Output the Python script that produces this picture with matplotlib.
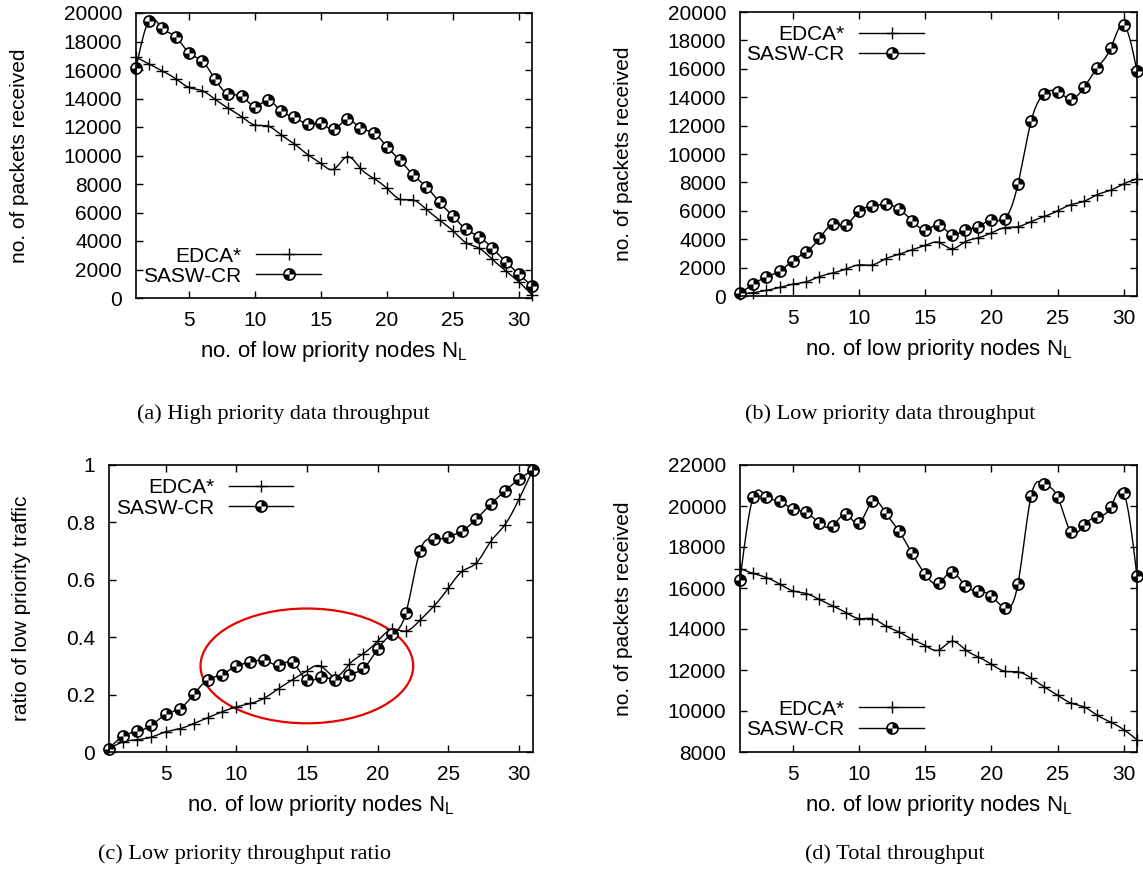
import numpy as np
import matplotlib
matplotlib.use('Agg')
import matplotlib.pyplot as plt
from matplotlib.path import Path
from matplotlib.patches import Ellipse
from matplotlib.legend_handler import HandlerTuple
from matplotlib.ticker import FuncFormatter

plt.rcParams['font.family'] = ['Liberation Sans', 'DejaVu Sans']
plt.rcParams['mathtext.fontset'] = 'custom'
plt.rcParams['mathtext.rm'] = 'Liberation Sans'
plt.rcParams['mathtext.it'] = 'Liberation Sans:italic'

# x axis: number of low priority nodes
nodes = np.arange(1, 32)

# (a) high priority data throughput
edca_high = [16900, 16420, 15930, 15390, 14780, 14550, 13940, 13310, 12720, 12140,
             12070, 11440, 10810, 10070, 9450, 9050, 9920, 9100, 8400, 7700,
             6930, 6880, 6220, 5470, 4720, 3880, 3490, 2710, 1920, 1140, 210]
sasw_high = [16120, 19470, 18920, 18340, 17210, 16630, 15340, 14290, 14180, 13430,
             13890, 13090, 12680, 12190, 12260, 11830, 12540, 11910, 11600, 10620,
             9680, 8630, 7810, 6710, 5750, 4820, 4300, 3490, 2550, 1680, 840]

# (b) low priority data throughput
edca_low = [150, 240, 400, 600, 830, 1000, 1360, 1620, 1900, 2190,
            2190, 2620, 2930, 3260, 3560, 3780, 3330, 3810, 4100, 4450,
            4810, 4880, 5240, 5600, 6000, 6430, 6670, 7140, 7450, 7900, 8260]
sasw_low = [200, 830, 1360, 1740, 2500, 3100, 4050, 5050, 5000, 6000,
            6310, 6480, 6120, 5310, 4670, 5000, 4330, 4640, 4880, 5360,
            5430, 7860, 12310, 14240, 14400, 13880, 14690, 16070, 17430, 19090, 15830]

# (c) low priority throughput ratio
edca_ratio = [0.012, 0.035, 0.043, 0.052, 0.070, 0.081, 0.099, 0.120, 0.140, 0.157,
              0.169, 0.188, 0.221, 0.252, 0.283, 0.299, 0.262, 0.306, 0.343, 0.386,
              0.427, 0.421, 0.459, 0.509, 0.570, 0.630, 0.659, 0.733, 0.791, 0.880, 0.983]
sasw_ratio = [0.012, 0.055, 0.072, 0.093, 0.131, 0.151, 0.201, 0.252, 0.270, 0.300,
              0.312, 0.320, 0.302, 0.312, 0.250, 0.262, 0.250, 0.270, 0.291, 0.358,
              0.410, 0.483, 0.700, 0.741, 0.750, 0.771, 0.812, 0.863, 0.909, 0.950, 0.983]

# (d) total throughput
edca_total = [16950, 16710, 16510, 16190, 15860, 15730, 15440, 15130, 14800, 14510,
              14510, 14150, 13860, 13500, 13190, 12970, 13400, 13000, 12640, 12280,
              11940, 11910, 11610, 11170, 10770, 10390, 10200, 9790, 9460, 9090, 8600]
sasw_total = [16380, 20450, 20450, 20240, 19830, 19690, 19150, 19040, 19590, 19150,
              20240, 19670, 18790, 17690, 16660, 16220, 16790, 16110, 15860, 15600,
              15030, 16190, 20490, 21060, 20450, 18740, 19070, 19480, 19930, 20650, 16580]

# highlighted region in (c)
ellipse_center = (15, 0.3)
ellipse_size = (15.05, 0.4)

captions = ['(a) High priority data throughput', '(b) Low priority data throughput',
            '(c) Low priority throughput ratio', '(d) Total throughput']

W, H = 1143, 882
fig = plt.figure(figsize=(W / 100, H / 100), dpi=100)


def px_axes(l, t, r, b):
    return fig.add_axes([l / W, 1 - b / H, (r - l) / W, (b - t) / H])


def csplines(x, y, num=600):
    # natural cubic spline, like gnuplot's "smooth csplines"
    x = np.asarray(x, float)
    y = np.asarray(y, float)
    n = len(x)
    h = np.diff(x)
    A = np.zeros((n, n))
    rhs = np.zeros(n)
    A[0, 0] = A[-1, -1] = 1
    for i in range(1, n - 1):
        A[i, i - 1] = h[i - 1]
        A[i, i] = 2 * (h[i - 1] + h[i])
        A[i, i + 1] = h[i]
        rhs[i] = 6 * ((y[i + 1] - y[i]) / h[i] - (y[i] - y[i - 1]) / h[i - 1])
    M = np.linalg.solve(A, rhs)
    xs = np.linspace(x[0], x[-1], num)
    k = np.clip(np.searchsorted(x, xs) - 1, 0, n - 2)
    t0 = x[k + 1] - xs
    t1 = xs - x[k]
    hk = h[k]
    ys = (M[k] * t0 ** 3 + M[k + 1] * t1 ** 3) / (6 * hk) \
        + (y[k] / hk - M[k] * hk / 6) * t0 + (y[k + 1] / hk - M[k + 1] * hk / 6) * t1
    return xs, ys


quad = Path.make_compound_path(Path.wedge(0, 90), Path.wedge(180, 270))
FS = 15


def panel(ax, edca, sasw, ylim, ystep, ylabel, label_x, legpos):
    xs, ys = csplines(nodes, edca)
    l1, = ax.plot(xs, ys, color='black', lw=1.0)
    m1, = ax.plot(nodes, edca, ls='none', marker='+', ms=9, mew=1.0, color='black', clip_on=False)
    xs, ys = csplines(nodes, sasw)
    l2, = ax.plot(xs, ys, color='black', lw=1.0)
    c2, = ax.plot(nodes, sasw, ls='none', marker='o', ms=8, mfc='white', mec='black', mew=1.2, clip_on=False)
    w2, = ax.plot(nodes, sasw, ls='none', marker=quad, ms=8, mfc='black', mec='black', mew=0, clip_on=False)

    ax.set_xlim(1, 31)
    ax.set_ylim(*ylim)
    ax.set_xticks(np.arange(5, 31, 5))
    ax.set_yticks(np.arange(ylim[0], ylim[1] + ystep / 2, ystep))
    ax.yaxis.set_major_formatter(FuncFormatter(lambda v, p: '%g' % round(v, 6)))
    ax.tick_params(direction='in', top=True, right=True, length=5, width=1,
                   labelsize=FS, pad=10)
    ax.tick_params(axis='x', pad=9)
    for s in ax.spines.values():
        s.set_linewidth(1.2)
    ax.set_xlabel(r'no. of low priority nodes N$_\mathrm{L}$', fontsize=16, labelpad=7)
    ax.set_ylabel(ylabel, fontsize=FS)
    ax.yaxis.set_label_coords(label_x, 0.5)

    leg = ax.legend([(l1, m1), (l2, c2, w2)], ['EDCA*', 'SASW-CR'],
                    handler_map={tuple: HandlerTuple(ndivide=1)},
                    markerfirst=False, frameon=False, loc='center right',
                    bbox_to_anchor=legpos, borderpad=0, borderaxespad=0,
                    handlelength=3.1, handletextpad=0.7, labelspacing=0.05,
                    fontsize=FS)
    for col in leg._legend_handle_box.get_children():
        col.align = 'right'
    return ax


ax_a = px_axes(136, 13, 532, 298)
panel(ax_a, edca_high, sasw_high, (0, 20000), 2000, 'no. of packets received', -0.27, (0.467, 0.112))

ax_b = px_axes(740, 12, 1137, 296)
panel(ax_b, edca_low, sasw_low, (0, 20000), 2000, 'no. of packets received', -0.27, (0.463, 0.885))

ax_c = px_axes(109, 465, 533, 752)
panel(ax_c, edca_ratio, sasw_ratio, (0, 1), 0.2, 'ratio of low priority traffic', -0.185, (0.435, 0.885))
ax_c.add_patch(Ellipse(ellipse_center, ellipse_size[0], ellipse_size[1],
                       fill=False, edgecolor='#e60000', lw=1.6))

ax_d = px_axes(740, 465, 1137, 752)
panel(ax_d, edca_total, sasw_total, (8000, 22000), 2000, 'no. of packets received', -0.27, (0.463, 0.114))

cap_pos = [(283, 414), (890, 414), (245, 854), (895, 854)]
for (cx, cy), txt in zip(cap_pos, captions):
    fig.text(cx / W, 1 - cy / H, txt, ha='center', va='center', fontsize=16,
             family=['Liberation Serif', 'DejaVu Serif'])

fig.savefig('out.png', dpi=100)
